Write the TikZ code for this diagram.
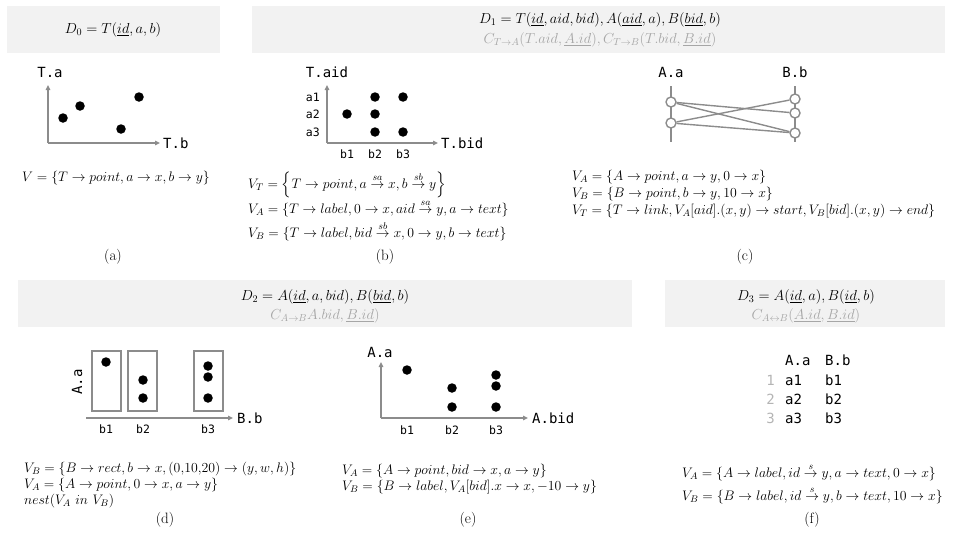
\RequirePackage{fix-cm}
\documentclass[tikz,border=0pt]{standalone}
\usepackage{amsmath}
\usepackage{fontspec}
\newfontfamily\monof{DejaVu Sans Mono}
\usetikzlibrary{arrows.meta}
\definecolor{boxgray}{HTML}{F2F2F2}
\definecolor{axgray}{HTML}{8C8C8C}
\definecolor{cgray}{HTML}{A6A6A6}
\definecolor{ngray}{HTML}{B4B4B4}
\tikzset{
 hdr/.style={font=\fontsize{14.5}{17}\selectfont, inner sep=0},
 cons/.style={hdr, text=cgray},
 fml/.style={font=\fontsize{13.8}{16}\selectfont, inner sep=0, anchor=west},
 sublabel/.style={font=\fontsize{15}{18}\selectfont, inner sep=0},
 mono/.style={font=\monof\fontsize{14}{16}\selectfont, inner sep=0},
 monos/.style={font=\monof\fontsize{11.5}{14}\selectfont, inner sep=0},
 dotn/.style={circle, fill=black, inner sep=0, minimum size=9.5pt},
 ring/.style={circle, draw=axgray, fill=white, line width=1.4pt, inner sep=0, minimum size=10pt},
 axis/.style={draw=axgray, line width=1.6pt, -{Triangle[length=5pt,width=4.5pt]}},
 lnk/.style={draw=axgray, line width=1.4pt},
 rectbox/.style={draw=axgray, line width=1.4pt, inner sep=0, minimum width=29pt, minimum height=60pt},
 bg/.style={fill=boxgray},
}
\begin{document}
\begin{tikzpicture}[x=1pt,y=-1pt]
\path[use as bounding box] (0,0) rectangle (953,538);
% ---------- header boxes
\fill[bg] (7,6) rectangle (220,53);
\fill[bg] (252,6) rectangle (945,53);
\fill[bg] (18,280) rectangle (632,327);
\fill[bg] (665,280) rectangle (945,327);
\node[hdr] (h0) at (113,30) {$D_0 = T(\underline{id}, a, b)$};
\node[hdr] (h1) at (600,20) {$D_1 = T(\underline{id}, aid, bid), A(\underline{aid}, a), B(\underline{bid}, b)$};
\node[cons] (c1) at (600,40) {$C_{T\to A}(T.aid, \underline{A.id}), C_{T\to B}(T.bid, \underline{B.id})$};
\node[hdr] (h2) at (325,297) {$D_2 = A(\underline{id}, a, bid), B(\underline{bid}, b)$};
\node[cons] (c2) at (325,316) {$C_{A\to B}A.bid, \underline{B.id})$};
\node[hdr] (h3) at (806,297) {$D_3 = A(\underline{id}, a), B(\underline{id}, b)$};
\node[cons] (c3) at (806,316) {$C_{A\leftrightarrow B}(\underline{A.id}, \underline{B.id})$};
% ---------- (a)
\coordinate (oa) at (48,143); \coordinate (ya) at (48,85); \coordinate (xa) at (160,143);
\draw[axis] (oa) -- (ya);
\draw[axis] (oa) -- (xa);
\node[mono] (Ta) at (50,72) {T.a};
\node[mono, anchor=west] (Tb) at (163,143) {T.b};
\node[dotn] (pa1) at (63,118) {};
\node[dotn] (pa2) at (80,106) {};
\node[dotn] (pa3) at (139,97) {};
\node[dotn] (pa4) at (121,129) {};
\node[fml] (Va) at (22,178) {$V = \{T \to point, a \to x, b \to y\}$};
\node[sublabel] (la) at (113,257) {(a)};
% ---------- (b)
\coordinate (ob) at (327,143); \coordinate (yb) at (327,85); \coordinate (xb) at (438,143);
\draw[axis] (ob) -- (yb);
\draw[axis] (ob) -- (xb);
\node[mono] (Taid) at (327,72) {T.aid};
\node[mono, anchor=west] (Tbid) at (441,143) {T.bid};
\node[monos, anchor=east] (ra1) at (320,97) {a1};
\node[monos, anchor=east] (ra2) at (320,114) {a2};
\node[monos, anchor=east] (ra3) at (320,132) {a3};
\node[monos] (cb1) at (347,154) {b1};
\node[monos] (cb2) at (375,154) {b2};
\node[monos] (cb3) at (403,154) {b3};
\node[dotn] (pb1) at (347,114) {};
\node[dotn] (pb2) at (375,97) {};
\node[dotn] (pb3) at (375,114) {};
\node[dotn] (pb4) at (375,132) {};
\node[dotn] (pb5) at (403,97) {};
\node[dotn] (pb6) at (403,132) {};
\node[fml] (VbT) at (248,185) {$V_T = \left\{T \to point, a \overset{sa}{\to} x, b \overset{sb}{\to} y\right\}$};
\node[fml] (VbA) at (248,208) {$V_A = \{T \to label, 0 \to x, aid \overset{sa}{\to} y, a \to text\}$};
\node[fml] (VbB) at (248,231) {$V_B = \{T \to label, bid \overset{sb}{\to} x, 0 \to y, b \to text\}$};
\node[sublabel] (lb) at (385,257) {(b)};
% ---------- (c)
\node[mono] (Aac) at (671,72) {A.a};
\node[mono] (Bbc) at (795,72) {B.b};
\coordinate (at) at (671,86); \coordinate (ab) at (671,142);
\coordinate (bt) at (795,86); \coordinate (bb) at (795,142);
\draw[lnk] (at) -- (ab);
\draw[lnk] (bt) -- (bb);
\node[ring] (A1) at (671,102) {};
\node[ring] (A2) at (671,123) {};
\node[ring] (B1) at (795,99) {};
\node[ring] (B2) at (795,113) {};
\node[ring] (B3) at (795,133) {};
\draw[lnk] (A1) -- (B2);
\draw[lnk] (A1) -- (B3);
\draw[lnk] (A2) -- (B1);
\draw[lnk] (A2) -- (B3);
\node[fml] (VcA) at (572,177) {$V_A = \{A \to point, a \to y, 0 \to x\}$};
\node[fml] (VcB) at (572,194) {$V_B = \{B \to point, b \to y, 10 \to x\}$};
\node[fml] (VcT) at (572,211) {$V_T = \{T \to link, V_A[aid].(x, y) \to start, V_B[bid].(x, y) \to end\}$};
\node[sublabel] (lc) at (745,257) {(c)};
% ---------- (d)
\node[rectbox] (r1) at (106.5,381) {};
\node[rectbox] (r2) at (142.5,381) {};
\node[rectbox] (r3) at (208.5,381) {};
\node[dotn] (pd1) at (106,362) {};
\node[dotn] (pd2) at (143,380) {};
\node[dotn] (pd3) at (143,398) {};
\node[dotn] (pd4) at (208,366) {};
\node[dotn] (pd5) at (208,377) {};
\node[dotn] (pd6) at (208,398) {};
\coordinate (od) at (86,418); \coordinate (xd) at (233,418);
\draw[axis] (od) -- (xd);
\node[mono, anchor=west] (Bbd) at (237,418) {B.b};
\node[mono, rotate=90] (Aad) at (77,382) {A.a};
\node[monos] (db1) at (106,429) {b1};
\node[monos] (db2) at (143,429) {b2};
\node[monos] (db3) at (208,429) {b3};
\node[fml] (VdB) at (24,469) {$V_B = \{B \to rect, b \to x, (0{,}10{,}20) \to (y, w, h)\}$};
\node[fml] (VdA) at (24,485) {$V_A = \{A \to point, 0 \to x, a \to y\}$};
\node[fml] (VdN) at (24,501) {$nest(V_A\ in\ V_B)$};
\node[sublabel] (ld) at (165,520) {(d)};
% ---------- (e)
\coordinate (oe) at (381,418); \coordinate (ye) at (381,362); \coordinate (xe) at (528,418);
\draw[axis] (oe) -- (ye);
\draw[axis] (oe) -- (xe);
\node[mono] (Aae) at (380,352) {A.a};
\node[mono, anchor=west] (Abide) at (532,418) {A.bid};
\node[monos] (eb1) at (407,430) {b1};
\node[monos] (eb2) at (452,430) {b2};
\node[monos] (eb3) at (496,430) {b3};
\node[dotn] (pe1) at (407,370) {};
\node[dotn] (pe2) at (452,388) {};
\node[dotn] (pe3) at (452,407) {};
\node[dotn] (pe4) at (496,375) {};
\node[dotn] (pe5) at (496,386) {};
\node[dotn] (pe6) at (496,407) {};
\node[fml] (VeA) at (342,471) {$V_A = \{A \to point, bid \to x, a \to y\}$};
\node[fml] (VeB) at (342,487) {$V_B = \{B \to label, V_A[bid].x \to x, -10 \to y\}$};
\node[sublabel] (le) at (468,520) {(e)};
% ---------- (f)
\node[mono, anchor=west] (tAa) at (785,360) {A.a};
\node[mono, anchor=west] (tBb) at (825,360) {B.b};
\node[mono, anchor=east, text=ngray] (n1) at (775,380) {1};
\node[mono, anchor=east, text=ngray] (n2) at (775,399) {2};
\node[mono, anchor=east, text=ngray] (n3) at (775,418) {3};
\node[mono, anchor=west] (ta1) at (785,380) {a1};
\node[mono, anchor=west] (ta2) at (785,399) {a2};
\node[mono, anchor=west] (ta3) at (785,418) {a3};
\node[mono, anchor=west] (tb1) at (825,380) {b1};
\node[mono, anchor=west] (tb2) at (825,399) {b2};
\node[mono, anchor=west] (tb3) at (825,418) {b3};
\node[fml] (VfA) at (682,472) {$V_A = \{A \to label, id \overset{s}{\to} y, a \to text, 0 \to x\}$};
\node[fml] (VfB) at (682,495) {$V_B = \{B \to label, id \overset{s}{\to} y, b \to text, 10 \to x\}$};
\node[sublabel] (lf) at (812,520) {(f)};
\end{tikzpicture}
\end{document}
